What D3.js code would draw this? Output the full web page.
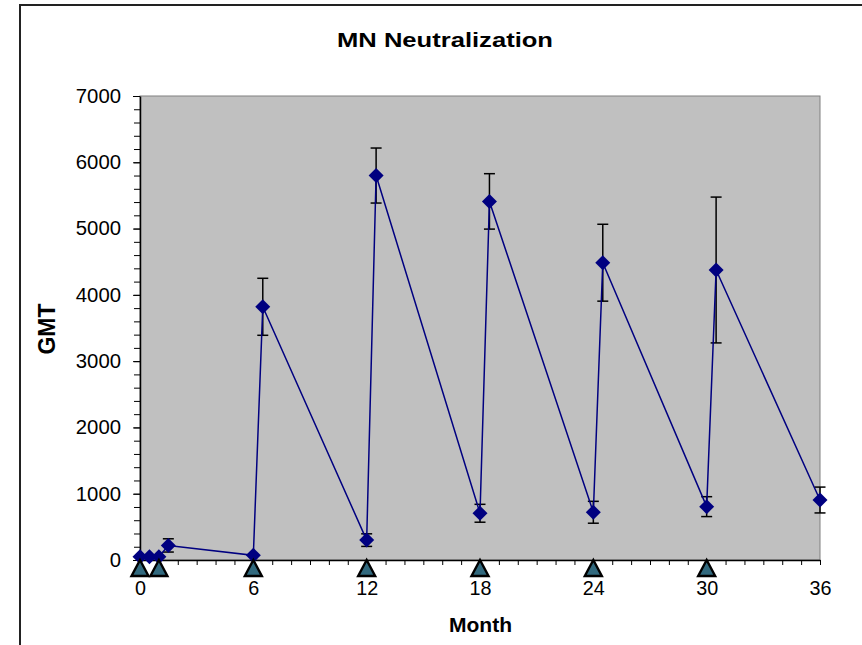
<!DOCTYPE html>
<html>
<head>
<meta charset="utf-8">
<script src="https://cdn.jsdelivr.net/npm/d3@7"></script>
<style>
  body { margin: 0; background: #fff; }
  text { font-family: Arial, "Liberation Sans", sans-serif; }
</style>
</head>
<body>
<svg id="chart" width="862" height="645"></svg>
<script>
// data
const months = [0, 0.5, 1, 1.5, 6, 6.5, 12, 12.5, 18, 18.5, 24, 24.5, 30, 30.5, 36]
const gmt = [50, 50, 50, 220, 70, 3820, 300, 5800, 705, 5410, 720, 4485, 805, 4375, 905]
const gmtErr = [0, 0, 0, 100, 0, 430, 95, 415, 135, 418, 165, 580, 150, 1100, 195]
const vaccinationMonths = [0, 1, 6, 12, 18, 24, 30]
const xTicks = [0, 6, 12, 18, 24, 30, 36]
const yTicks = [0, 1000, 2000, 3000, 4000, 5000, 6000, 7000]

const points = months.map((m, i) => ({ month: m, value: gmt[i], err: gmtErr[i] }))

const svg = d3.select("#chart")

const PLOT = { LEFT: 140, RIGHT: 820, TOP: 96, BOTTOM: 560 }

const xScale = d3.scaleLinear().domain([0, 36]).range([PLOT.LEFT, PLOT.RIGHT])
const yScale = d3.scaleLinear().domain([0, 7000]).range([PLOT.BOTTOM, PLOT.TOP])

// outer frame (only left and top visible)
svg.append("path")
    .attr("d", "M20,645 L20,5 L862,5")
    .attr("fill", "none")
    .attr("stroke", "#222")
    .attr("stroke-width", 2)

// plot area
svg.append("rect")
    .attr("x", PLOT.LEFT)
    .attr("y", PLOT.TOP)
    .attr("width", PLOT.RIGHT - PLOT.LEFT)
    .attr("height", PLOT.BOTTOM - PLOT.TOP)
    .attr("fill", "#c0c0c0")
    .attr("stroke", "#808080")
    .attr("stroke-width", 1)

// y axis
const yAxis = svg.append("g")
    .attr("transform", `translate(${PLOT.LEFT},0)`)
    .call(d3.axisLeft(yScale).tickValues(yTicks).tickFormat(d3.format("d"))
        .tickSize(7).tickPadding(12).tickSizeOuter(0))
yAxis.selectAll(".tick line").attr("stroke", "#000")
yAxis.select(".domain").attr("stroke", "#000").attr("stroke-width", 1.5)
yAxis.selectAll("text")
    .attr("font-size", "20px")
    .attr("fill", "#000")
    .attr("textLength", d => String(d).length * 11.3)
    .attr("lengthAdjust", "spacingAndGlyphs")

svg.append("g")
    .attr("transform", `translate(${PLOT.LEFT},0)`)
    .call(d3.axisLeft(yScale).tickValues(d3.range(0, 7001, 200)).tickSize(6).tickFormat(""))
    .call(g => g.select(".domain").remove())

// x axis
const xAxis = svg.append("g")
    .attr("transform", `translate(0,${PLOT.BOTTOM})`)
    .call(d3.axisBottom(xScale).tickValues(d3.range(0, 37, 1)).tickSize(5).tickSizeOuter(0)
        .tickFormat(d => xTicks.includes(d) ? d : ""))
xAxis.select(".domain").attr("stroke", "#000").attr("stroke-width", 1.5)
xAxis.selectAll("text")
    .attr("y", 21)
    .attr("font-size", "20px")
    .attr("fill", "#000")
    .filter(d => xTicks.includes(d))
    .attr("textLength", d => String(d).length * 11)
    .attr("lengthAdjust", "spacingAndGlyphs")

// error bars
const capW = 5.5
const errG = svg.append("g")
    .attr("stroke", "#000")
    .attr("stroke-width", 1.5)
points.filter(d => d.err > 0).forEach(d => {
    const x = xScale(d.month)
    const y0 = yScale(d.value - d.err)
    const y1 = yScale(d.value + d.err)
    errG.append("line").attr("x1", x).attr("x2", x).attr("y1", y0).attr("y2", y1)
    errG.append("line").attr("x1", x - capW).attr("x2", x + capW).attr("y1", y0).attr("y2", y0)
    errG.append("line").attr("x1", x - capW).attr("x2", x + capW).attr("y1", y1).attr("y2", y1)
})

// series line
const line = d3.line()
    .x(d => xScale(d.month))
    .y(d => yScale(d.value))

svg.append("path")
    .datum(points)
    .attr("fill", "none")
    .attr("stroke", "#000080")
    .attr("stroke-width", 1.5)
    .attr("d", line)

// diamond markers
svg.append("g")
    .selectAll("path")
    .data(points)
    .join("path")
    .attr("transform", d => `translate(${xScale(d.month)},${yScale(d.value)})`)
    .attr("d", "M0,-7.5 L7.5,0 L0,7.5 L-7.5,0 Z")
    .attr("fill", "#000080")

// vaccination triangles
svg.append("g")
    .selectAll("path")
    .data(vaccinationMonths)
    .join("path")
    .attr("transform", d => `translate(${xScale(d)},${PLOT.BOTTOM})`)
    .attr("d", "M0,0 L8.5,16 L-8.5,16 Z")
    .attr("fill", "#31697e")
    .attr("stroke", "#000")
    .attr("stroke-width", 2.4)
    .attr("stroke-linejoin", "miter")

// titles
svg.append("text")
    .attr("x", 445)
    .attr("y", 47)
    .attr("text-anchor", "middle")
    .attr("font-size", "21px")
    .attr("font-weight", "bold")
    .attr("textLength", 216)
    .attr("lengthAdjust", "spacingAndGlyphs")
    .text("MN Neutralization")

svg.append("text")
    .attr("x", 480.5)
    .attr("y", 632)
    .attr("text-anchor", "middle")
    .attr("font-size", "21px")
    .attr("font-weight", "bold")
    .text("Month")

svg.append("text")
    .attr("transform", "translate(55,329) rotate(-90)")
    .attr("text-anchor", "middle")
    .attr("font-size", "23px")
    .attr("font-weight", "bold")
    .text("GMT")
</script>
</body>
</html>
